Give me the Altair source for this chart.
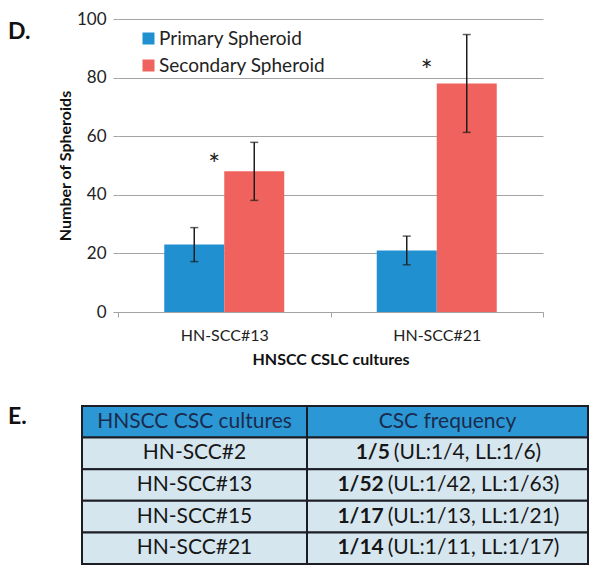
import altair as alt
import pandas as pd

# ---------------- data ----------------
cultures = ["HN-SCC#13", "HN-SCC#21"]
series = ["Primary Spheroid", "Secondary Spheroid"]
primary_mean = [23, 21]
primary_err = [5.8, 4.9]
secondary_mean = [48, 78]
secondary_err = [9.9, 16.7]
star_level = [52, 84]

table_header = ["HNSCC CSC cultures", "CSC frequency"]
table_cultures = ["HN-SCC#2", "HN-SCC#13", "HN-SCC#15", "HN-SCC#21"]
table_freq = ["1/5", "1/52", "1/17", "1/14"]
table_limits = ["(UL:1/4, LL:1/6)", "(UL:1/42, LL:1/63)",
                "(UL:1/13, LL:1/21)", "(UL:1/11, LL:1/17)"]

# ---------------- style ----------------
FONT = "Lato"
BLUE = "#2190d1"
RED = "#ef625d"
GRID = "#a3a3a3"
ERR = "#1e1e1e"
HEAD_FILL = "#2b98d5"
ROW_FILL = "#d6e6ef"
BORDER = "#1c1c24"
HEAD_TEXT = "#1b2b4d"
TXT = "#161616"
CHART_FS = 16
LEGEND_FS = 19
TABLE_FS = 21
COL_W = [225, 281]

rows = []
for i, c in enumerate(cultures):
    rows.append({"culture": c, "series": series[0], "mean": primary_mean[i],
                 "lo": primary_mean[i] - primary_err[i], "hi": primary_mean[i] + primary_err[i]})
    rows.append({"culture": c, "series": series[1], "mean": secondary_mean[i],
                 "lo": secondary_mean[i] - secondary_err[i], "hi": secondary_mean[i] + secondary_err[i]})
df = pd.DataFrame(rows)
stars = pd.DataFrame({"culture": cultures, "series": [series[1]] * 2, "level": star_level})

x_enc = alt.X("culture:N", sort=cultures,
              scale=alt.Scale(paddingInner=0, paddingOuter=0),
              axis=alt.Axis(title="HNSCC CSLC cultures", labelAngle=0, tickBand="extent",
                            domainColor=GRID, tickColor=GRID, tickSize=5, grid=False,
                            labelFont=FONT, labelFontSize=CHART_FS, labelColor="#222",
                            labelPadding=10, titleFont=FONT, titleFontSize=CHART_FS,
                            titleFontWeight="bold", titleColor="#111", titlePadding=8))
xo_enc = alt.XOffset("series:N", sort=series,
                     scale=alt.Scale(paddingOuter=0.771, paddingInner=0))
y_scale = alt.Scale(domain=[0, 100])

bars = alt.Chart(df).mark_bar().encode(
    x=x_enc, xOffset=xo_enc,
    y=alt.Y("mean:Q", scale=y_scale,
            axis=alt.Axis(values=[0, 20, 40, 60, 80, 100], title="Number of Spheroids",
                          domain=False, gridColor=GRID, gridWidth=1, tickColor=GRID, tickSize=5,
                          labelFont=FONT, labelFontSize=17, labelColor="#222",
                          labelPadding=7, titleFont=FONT, titleFontSize=CHART_FS,
                          titleFontWeight="bold", titleColor="#111", titlePadding=3)),
    color=alt.Color("series:N", sort=series,
                    scale=alt.Scale(domain=series, range=[BLUE, RED]),
                    legend=alt.Legend(title=None, orient="none", legendX=21, legendY=10,
                                      symbolType="square", symbolSize=144, symbolStrokeWidth=0,
                                      labelFont=FONT, labelFontSize=LEGEND_FS, labelColor="#222",
                                      labelOffset=1, labelLimit=400, rowPadding=7, padding=0)),
)

err_rule = alt.Chart(df).mark_rule(color=ERR, strokeWidth=1.5).encode(
    x="culture:N", xOffset=alt.XOffset("series:N", sort=series), y="lo:Q", y2="hi:Q")
cap_hi = alt.Chart(df).mark_tick(color=ERR, thickness=1.5, size=8, orient="horizontal").encode(
    x="culture:N", xOffset=alt.XOffset("series:N", sort=series), y="hi:Q")
cap_lo = alt.Chart(df).mark_tick(color=ERR, thickness=1.5, size=8, orient="horizontal").encode(
    x="culture:N", xOffset=alt.XOffset("series:N", sort=series), y="lo:Q")
star = alt.Chart(stars).mark_text(text="*", font=FONT, fontSize=28, color="#222",
                                  dx=-40, dy=7, baseline="middle").encode(
    x="culture:N", xOffset=alt.XOffset("series:N", sort=series), y="level:Q")
d_label = alt.Chart(pd.DataFrame({"t": ["D."]})).mark_text(
    font=FONT, fontSize=23, fontWeight="bold", align="left", baseline="middle", color="#111"
).encode(x=alt.value(-110), y=alt.value(13), text="t:N")

top = alt.layer(bars, err_rule, cap_hi, cap_lo, star, d_label).properties(width=425, height=293)

# ---------------- table ----------------
EM = {"0": .58, "1": .58, "2": .58, "3": .58, "4": .58, "5": .58, "6": .58, "7": .58,
      "8": .58, "9": .58, "/": .37, "(": .31, ")": .31, "U": .72, "L": .49, ":": .24,
      ",": .22, " ": .26}


def text_w(s, size):
    return sum(EM.get(ch, .55) for ch in s) * size


edges = [0, COL_W[0], COL_W[0] + COL_W[1]]
centers = [(edges[0] + edges[1]) / 2, (edges[1] + edges[2]) / 2]
GAP = 4

cells = []
for r in range(5):
    for c in range(2):
        cells.append({"row": r, "x0": edges[c], "x1": edges[c + 1], "head": r == 0})
cells = pd.DataFrame(cells)

head_df = pd.DataFrame({"row": [0, 0], "xc": centers, "t": table_header})
col1_df = pd.DataFrame({"row": [1, 2, 3, 4], "xc": [centers[0]] * 4, "t": table_cultures})
splits = []
for b, n in zip(table_freq, table_limits):
    wb = text_w(b, TABLE_FS)
    wn = text_w(n, TABLE_FS)
    splits.append(centers[1] - (wb + GAP + wn) / 2 + wb)
bold_df = pd.DataFrame({"row": [1, 2, 3, 4], "xs": splits, "t": table_freq})
norm_df = pd.DataFrame({"row": [1, 2, 3, 4], "xs": [s + GAP for s in splits], "t": table_limits})

tx = alt.Scale(domain=[0, edges[2]], range=[-36, 470])
ty = alt.Scale(domain=[0, 1, 2, 3, 4], paddingInner=0, paddingOuter=0)

rect_head = alt.Chart(cells[cells["head"]]).mark_rect(fill=HEAD_FILL, stroke=BORDER, strokeWidth=2).encode(
    x=alt.X("x0:Q", scale=tx, axis=None), x2="x1:Q", y=alt.Y("row:O", scale=ty, axis=None))
rect_body = alt.Chart(cells[~cells["head"]]).mark_rect(fill=ROW_FILL, stroke=BORDER, strokeWidth=2).encode(
    x=alt.X("x0:Q", scale=tx, axis=None), x2="x1:Q", y=alt.Y("row:O", scale=ty, axis=None))
head_txt = alt.Chart(head_df).mark_text(font=FONT, fontSize=TABLE_FS, color=HEAD_TEXT).encode(
    x=alt.X("xc:Q", scale=tx, axis=None), y=alt.Y("row:O", scale=ty, axis=None), text="t:N")
col1_txt = alt.Chart(col1_df).mark_text(font=FONT, fontSize=TABLE_FS, color=TXT).encode(
    x=alt.X("xc:Q", scale=tx, axis=None), y=alt.Y("row:O", scale=ty, axis=None), text="t:N")
bold_txt = alt.Chart(bold_df).mark_text(font=FONT, fontSize=TABLE_FS, fontWeight="bold",
                                        color=TXT, align="right").encode(
    x=alt.X("xs:Q", scale=tx, axis=None), y=alt.Y("row:O", scale=ty, axis=None), text="t:N")
norm_txt = alt.Chart(norm_df).mark_text(font=FONT, fontSize=TABLE_FS, color=TXT, align="left").encode(
    x=alt.X("xs:Q", scale=tx, axis=None), y=alt.Y("row:O", scale=ty, axis=None), text="t:N")
e_label = alt.Chart(pd.DataFrame({"t": ["E."]})).mark_text(
    font=FONT, fontSize=23, fontWeight="bold", align="left", baseline="middle", color="#111"
).encode(x=alt.value(-110), y=alt.value(11), text="t:N")

table = alt.layer(rect_head, rect_body, head_txt, col1_txt, bold_txt, norm_txt, e_label).properties(
    width=470, height=158)

chart = alt.vconcat(top, table, spacing=38).resolve_scale(
    x="independent", y="independent", color="independent"
).properties(padding={"left": 0, "right": 0, "top": 2, "bottom": 0},
             background="white").configure_view(stroke=None)

chart.save("out.html", embed_options={"renderer": "svg", "actions": False})
